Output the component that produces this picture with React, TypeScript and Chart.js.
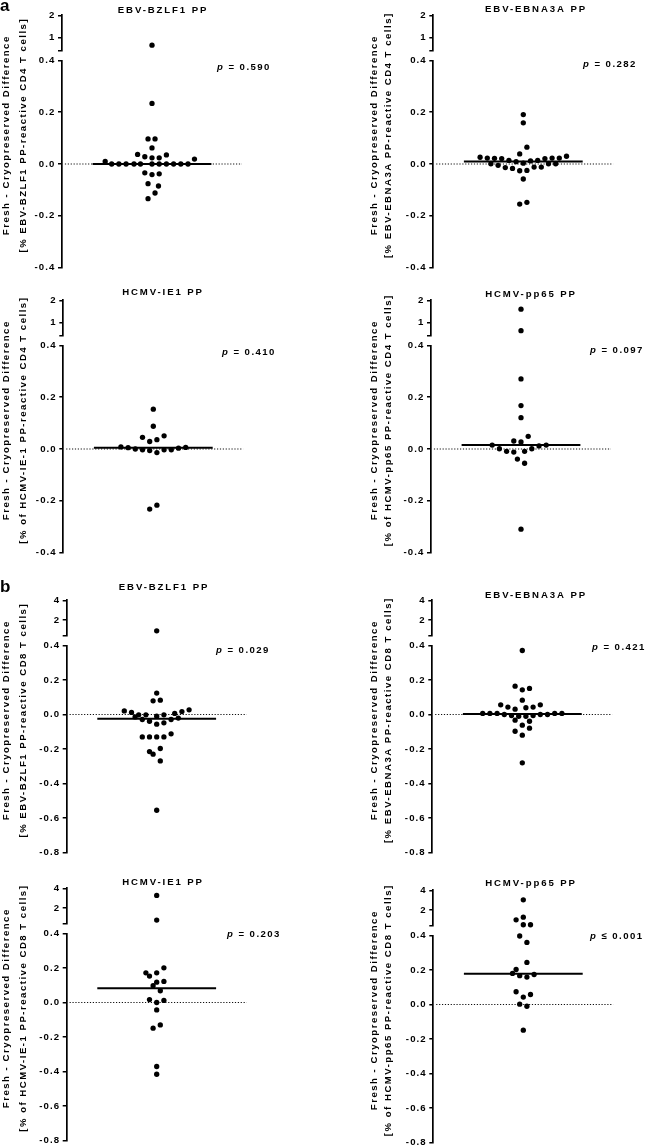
import React, { useEffect, useRef } from 'react';
import { Chart, registerables } from 'chart.js';

Chart.register(...registerables);

const FONT = "'Liberation Sans', Arial, Helvetica, sans-serif";

// ---------- axis ticks ----------
const cd4UpperTicks = [0.4, 1, 2];
const cd4LowerTicks = [-0.4, -0.2, 0, 0.2, 0.4];
const cd8UpperTicks = [0.4, 2, 4];
const cd8LowerTicks = [-0.8, -0.6, -0.4, -0.2, 0, 0.2, 0.4];

// x spread of the column (in dot widths)
const xRange = [-12.5, 12.5];
const zeroLineX = [-12.1, 12.5];
const medianHalfWidth = 8.25;

// ---------- a: CD4 ----------
const cd4BzlfX = [0, 0, -0.55, 0.42, 0, -2.0, -1.0, 0, 1.0, 2.0, 5.9, -6.5, -5.6, -4.6, -3.6, -2.5, -1.6, 0, 1.0, 2.0, 3.0, 4.0, 5.0, -1.0, 0, 1.0, -0.55, 0.9, 0.42, -0.55];
const cd4BzlfY = [0.65, 0.234, 0.097, 0.097, 0.062, 0.037, 0.028, 0.024, 0.024, 0.035, 0.019, 0.01, 0, 0, 0, 0, 0, 0, 0, 0, 0, 0, 0, -0.034, -0.041, -0.038, -0.076, -0.085, -0.112, -0.134];
const cd4BzlfMedian = 0.0;

const cd4EbnaX = [0, 0, 0.5, -0.5, -6, -5, -4, -3, -2, -1, 1, 2, 3, 4, 5, 6, -4.5, -3.5, -2.5, -1.5, -0.5, 0.5, 1.5, 2.5, 3.5, 4.5, 0, 0, -0.5, 0.5];
const cd4EbnaY = [0.191, 0.159, 0.065, 0.039, 0.026, 0.023, 0.022, 0.021, 0.014, 0.009, 0.012, 0.014, 0.021, 0.023, 0.023, 0.03, 0.001, -0.005, -0.014, -0.017, -0.026, -0.025, -0.012, -0.012, 0.001, 0.001, 0.003, -0.058, -0.155, -0.148];
const cd4EbnaMedian = 0.01;

const cd4Ie1X = [0, 0, -1.5, -0.5, 0.5, 1.5, -4.5, -3.5, -2.5, -1.5, -0.5, 0.5, 1.5, 2.5, 3.5, 4.5, -0.5, 0.5];
const cd4Ie1Y = [0.154, 0.088, 0.045, 0.029, 0.036, 0.051, 0.008, 0.005, 0.0, -0.003, -0.006, -0.014, -0.003, -0.003, 0.003, 0.006, -0.232, -0.217];
const cd4Ie1Median = 0.005;

const cd4Pp65X = [0, 0, 0, 0, 0, 1, -1, 0, -4, 3.5, 2.5, -3, 1.5, -2, -1, 0.5, -0.5, 0.5, 0];
const cd4Pp65Y = [1.6, 0.63, 0.271, 0.168, 0.121, 0.049, 0.031, 0.027, 0.015, 0.015, 0.012, 0.001, 0.001, -0.009, -0.012, -0.009, -0.039, -0.055, -0.31];
const cd4Pp65Median = 0.0155;

// ---------- b: CD8 ----------
const cd8BzlfX = [0, 0, -0.5, 0.5, -4.5, -3.5, -2.5, -3, -1.5, -2, -1, 0, 0, 1, 1, 2, 3, 2.5, 3.5, 4.5, -2, -1, 0, 1, 2, 0.5, -1, -0.5, 0.5, 0];
const cd8BzlfY = [0.9, 0.124, 0.079, 0.083, 0.021, 0.012, -0.002, -0.014, -0.002, -0.029, -0.039, -0.01, -0.056, -0.002, -0.048, -0.029, -0.021, 0.006, 0.017, 0.027, -0.13, -0.13, -0.13, -0.13, -0.112, -0.197, -0.215, -0.23, -0.269, -0.555];
const cd8BzlfMedian = -0.025;

const cd8EbnaX = [0, -1, 0, 1, 0, -3, -2, -1, 0.5, 1.5, 2.5, -5.5, -4.5, -3.5, -2.5, -1.5, -0.5, 0.5, 1.5, 2.5, 3.5, 4.5, 5.5, -1, 1, 0, 1, -1, 0, 0];
const cd8EbnaY = [0.371, 0.164, 0.143, 0.151, 0.083, 0.056, 0.043, 0.031, 0.039, 0.043, 0.056, 0.006, 0.006, 0.006, 0.0, -0.006, -0.01, -0.01, -0.006, 0.0, 0.0, 0.006, 0.006, -0.033, -0.039, -0.062, -0.079, -0.097, -0.12, -0.28];
const cd8EbnaMedian = 0.003;

const cd8Ie1X = [0, 0, 1, -1.5, 0, -1, 0, 1, -0.5, 0.5, -1, 1, 0, 0, 0.5, -0.5, 0, 0];
const cd8Ie1Y = [3.27, 0.77, 0.201, 0.172, 0.172, 0.153, 0.118, 0.122, 0.097, 0.068, 0.017, 0.012, 0.0, -0.043, -0.13, -0.149, -0.371, -0.416];
const cd8Ie1Median = 0.083;

const cd8Pp65X = [0, -1, 0, 0, 1, -0.5, 0.5, 0.5, -1, -1.5, -0.5, 0.5, 1.5, -1, 1, 0, -0.5, 0.5, 0];
const cd8Pp65Y = [3.03, 1.0, 1.27, 0.5, 0.5, 0.397, 0.36, 0.244, 0.203, 0.18, 0.167, 0.159, 0.174, 0.074, 0.058, 0.043, 0.002, -0.01, -0.149];
const cd8Pp65Median = 0.178;

const yTitleLine1 = 'Fresh - Cryopreserved Difference';

// ---------- layout / style constants ----------
const PANEL_W = 324;
const PLOT_W = 180;
const AXIS_BOX_W = 40;
const LOW_TOP_EXTRA = 26;
const LOW_H = 287;
const UP_H = 52;
const Y_TITLE_DY = 121;
const FS = 9.6;

type Layout = {
  originX: number; axisX: number; yTop: number; titleX: number; titleDy: number;
  pX: number; pDy: number; yt1: number; yt2: number; letterY?: number;
};

type PanelSpec = {
  title: string; yTitle: string; pRest: string; letter?: string;
  x: number[]; y: number[]; median: number;
  upperTicks: number[]; lowerTicks: number[]; layout: Layout;
};

const PANELS: PanelSpec[] = [
  { title: 'EBV-BZLF1 PP', yTitle: '[% EBV-BZLF1 PP-reactive CD4 T cells]', pRest: ' = 0.590', letter: 'a',
    x: cd4BzlfX, y: cd4BzlfY, median: cd4BzlfMedian, upperTicks: cd4UpperTicks, lowerTicks: cd4LowerTicks,
    layout: { originX: 0, axisX: 62, yTop: 15, titleX: 162, titleDy: -5, pX: 217, pDy: 52, yt1: 6.5, yt2: 23.5, letterY: 11 } },
  { title: 'EBV-EBNA3A PP', yTitle: '[% EBV-EBNA3A PP-reactive CD4 T cells]', pRest: ' = 0.282',
    x: cd4EbnaX, y: cd4EbnaY, median: cd4EbnaMedian, upperTicks: cd4UpperTicks, lowerTicks: cd4LowerTicks,
    layout: { originX: 325, axisX: 433.3, yTop: 15, titleX: 535, titleDy: -5.7, pX: 583, pDy: 49.3, yt1: 374.5, yt2: 388.5 } },
  { title: 'HCMV-IE1 PP', yTitle: '[% of HCMV-IE-1 PP-reactive CD4 T cells]', pRest: ' = 0.410',
    x: cd4Ie1X, y: cd4Ie1Y, median: cd4Ie1Median, upperTicks: cd4UpperTicks, lowerTicks: cd4LowerTicks,
    layout: { originX: 0, axisX: 63.3, yTop: 300, titleX: 162, titleDy: -7.5, pX: 222, pDy: 52.3, yt1: 6.5, yt2: 23.5 } },
  { title: 'HCMV-pp65 PP', yTitle: '[% of HCMV-pp65 PP-reactive CD4 T cells]', pRest: ' = 0.097',
    x: cd4Pp65X, y: cd4Pp65Y, median: cd4Pp65Median, upperTicks: cd4UpperTicks, lowerTicks: cd4LowerTicks,
    layout: { originX: 325, axisX: 431, yTop: 299.5, titleX: 530, titleDy: -5.5, pX: 590, pDy: 50.5, yt1: 374.5, yt2: 388.5 } },
  { title: 'EBV-BZLF1 PP', yTitle: '[% EBV-BZLF1 PP-reactive CD8 T cells]', pRest: ' = 0.029', letter: 'b',
    x: cd8BzlfX, y: cd8BzlfY, median: cd8BzlfMedian, upperTicks: cd8UpperTicks, lowerTicks: cd8LowerTicks,
    layout: { originX: 0, axisX: 66.7, yTop: 600, titleX: 163, titleDy: -12.7, pX: 216, pDy: 50.7, yt1: 6.5, yt2: 23.5, letterY: 591.5 } },
  { title: 'EBV-EBNA3A PP', yTitle: '[% EBV-EBNA3A PP-reactive CD8 T cells]', pRest: ' = 0.421',
    x: cd8EbnaX, y: cd8EbnaY, median: cd8EbnaMedian, upperTicks: cd8UpperTicks, lowerTicks: cd8LowerTicks,
    layout: { originX: 325, axisX: 432.3, yTop: 599.5, titleX: 535, titleDy: -4.5, pX: 592, pDy: 47.2, yt1: 374.5, yt2: 388.5 } },
  { title: 'HCMV-IE1 PP', yTitle: '[% of HCMV-IE-1 PP-reactive CD8 T cells]', pRest: ' = 0.203',
    x: cd8Ie1X, y: cd8Ie1Y, median: cd8Ie1Median, upperTicks: cd8UpperTicks, lowerTicks: cd8LowerTicks,
    layout: { originX: 0, axisX: 66.7, yTop: 888, titleX: 162, titleDy: -5.3, pX: 227, pDy: 46, yt1: 6.5, yt2: 23.5 } },
  { title: 'HCMV-pp65 PP', yTitle: '[% of HCMV-pp65 PP-reactive CD8 T cells]', pRest: ' \u2264 0.001',
    x: cd8Pp65X, y: cd8Pp65Y, median: cd8Pp65Median, upperTicks: cd8UpperTicks, lowerTicks: cd8LowerTicks,
    layout: { originX: 325, axisX: 433.3, yTop: 889.5, titleX: 530, titleDy: -6.6, pX: 590, pDy: 46.5, yt1: 374.5, yt2: 388.5 } },
];

const spacingPlugin = {
  id: 'letterSpacing',
  beforeDraw(chart: any) {
    chart.ctx.letterSpacing = '1.1px';
  },
};

function makeTextPlugin(panel: PanelSpec) {
  return {
    id: 'panelText',
    afterDraw(chart: any) {
      const ctx = chart.ctx;
      const L = panel.layout;
      const ox = L.originX;
      const oy = L.yTop - LOW_TOP_EXTRA;
      ctx.save();
      ctx.fillStyle = '#000';
      // title
      ctx.font = `bold ${FS}px ${FONT}`;
      ctx.letterSpacing = '1.9px';
      ctx.textAlign = 'center';
      ctx.textBaseline = 'middle';
      ctx.fillText(panel.title, L.titleX - ox + 1, L.yTop + L.titleDy - oy);
      // p value
      ctx.letterSpacing = '1.45px';
      ctx.textAlign = 'left';
      ctx.font = `italic bold ${FS}px ${FONT}`;
      const py = L.yTop + L.pDy - oy;
      ctx.fillText('p', L.pX - ox, py);
      const pw = ctx.measureText('p').width;
      ctx.font = `bold ${FS}px ${FONT}`;
      ctx.fillText(panel.pRest, L.pX - ox + pw, py);
      // y-axis title (two lines)
      ctx.letterSpacing = '1.5px';
      ctx.textAlign = 'center';
      const lines = [yTitleLine1, panel.yTitle];
      const xs = [L.yt1, L.yt2];
      for (let i = 0; i < 2; i++) {
        ctx.save();
        ctx.translate(xs[i] - ox, L.yTop + Y_TITLE_DY - oy);
        ctx.rotate(-Math.PI / 2);
        ctx.fillText(lines[i], 0.8, 0);
        ctx.restore();
      }
      // panel letter
      if (panel.letter) {
        ctx.font = `bold 17px ${FONT}`;
        ctx.letterSpacing = '0px';
        ctx.textAlign = 'left';
        ctx.textBaseline = 'alphabetic';
        ctx.fillText(panel.letter, 0 - ox, (L.letterY || 0) - oy);
      }
      ctx.restore();
    },
  };
}

function yScale(ticks: number[], upper: boolean) {
  return {
    type: 'linear',
    position: 'left',
    min: ticks[0],
    max: ticks[ticks.length - 1],
    afterFit: (s: any) => { s.width = AXIS_BOX_W; },
    afterBuildTicks: (s: any) => { s.ticks = ticks.slice().reverse().map((v) => ({ value: v })); },
    ticks: {
      autoSkip: false,
      color: '#000',
      padding: 2.5,
      font: { family: FONT, size: FS, weight: 'bold' },
      callback: (v: any) => {
        const n = Number(v);
        if (upper) return n === ticks[0] ? '' : String(n);
        return n.toFixed(1);
      },
    },
    grid: {
      display: true,
      drawOnChartArea: false,
      drawTicks: true,
      tickLength: 4,
      tickWidth: 1.5,
      tickColor: '#000',
      color: '#000',
      lineWidth: 1.5,
    },
    border: { display: true, color: '#000', width: 1.7 },
  };
}

function PanelChart({ panel }: { panel: PanelSpec }) {
  const lowRef = useRef<HTMLCanvasElement | null>(null);
  const upRef = useRef<HTMLCanvasElement | null>(null);
  const L = panel.layout;

  useEffect(() => {
    const padLeft = L.axisX - L.originX - AXIS_BOX_W;
    const padRight = L.originX + PANEL_W - (L.axisX + PLOT_W);
    const lowMax = panel.lowerTicks[panel.lowerTicks.length - 1];
    const pts = panel.x.map((x, i) => ({ x, y: panel.y[i] }));
    const lowPts = pts.filter((p) => p.y <= lowMax);
    const upPts = pts.filter((p) => p.y > lowMax);

    const xScale = { type: 'linear', display: false, min: xRange[0], max: xRange[1] };
    const pointDs = (data: any[]) => ({
      type: 'scatter',
      data,
      clip: false,
      pointRadius: 2.65,
      pointHoverRadius: 2.65,
      pointBackgroundColor: '#000',
      pointBorderWidth: 0,
      borderWidth: 0,
      showLine: false,
    });
    const common = {
      responsive: false,
      maintainAspectRatio: false,
      animation: false,
      devicePixelRatio: 1,
      events: [],
      plugins: { legend: { display: false }, tooltip: { enabled: false }, title: { display: false } },
    };

    const low = new Chart(lowRef.current as HTMLCanvasElement, {
      type: 'scatter',
      data: {
        datasets: [
          pointDs(lowPts),
          {
            type: 'scatter',
            data: [{ x: -medianHalfWidth, y: panel.median }, { x: medianHalfWidth, y: panel.median }],
            showLine: true,
            borderColor: '#000',
            borderWidth: 2,
            pointRadius: 0,
            fill: false,
          },
          {
            type: 'scatter',
            data: [{ x: zeroLineX[0], y: 0 }, { x: zeroLineX[1], y: 0 }],
            showLine: true,
            borderColor: '#111',
            borderWidth: 1.1,
            borderDash: [1.2, 1.7],
            pointRadius: 0,
            fill: false,
          },
        ],
      },
      options: {
        ...common,
        layout: { padding: { left: padLeft, right: padRight, top: LOW_TOP_EXTRA + 45.5, bottom: LOW_H - (LOW_TOP_EXTRA + 252.5) } },
        scales: { x: xScale, y: yScale(panel.lowerTicks, false) },
      } as any,
      plugins: [spacingPlugin, makeTextPlugin(panel)],
    } as any);

    const up = new Chart(upRef.current as HTMLCanvasElement, {
      type: 'scatter',
      data: { datasets: [pointDs(upPts)] },
      options: {
        ...common,
        layout: { padding: { left: padLeft, right: padRight, top: 8, bottom: 8 } },
        scales: { x: xScale, y: yScale(panel.upperTicks, true) },
      } as any,
      plugins: [spacingPlugin],
    } as any);

    return () => {
      low.destroy();
      up.destroy();
    };
  }, [panel]);

  return (
    <>
      <canvas
        ref={lowRef}
        width={PANEL_W}
        height={LOW_H}
        style={{ position: 'absolute', left: L.originX, top: L.yTop - LOW_TOP_EXTRA, width: PANEL_W, height: LOW_H }}
      />
      <canvas
        ref={upRef}
        width={PANEL_W}
        height={UP_H}
        style={{ position: 'absolute', left: L.originX, top: L.yTop - 8, width: PANEL_W, height: UP_H }}
      />
    </>
  );
}

export default function App() {
  return (
    <div
      style={{
        position: 'absolute',
        left: 0,
        top: 0,
        width: 649,
        height: 1147,
        overflow: 'hidden',
        background: '#fff',
      }}
    >
      {PANELS.map((p, i) => (
        <PanelChart key={i} panel={p} />
      ))}
    </div>
  );
}
